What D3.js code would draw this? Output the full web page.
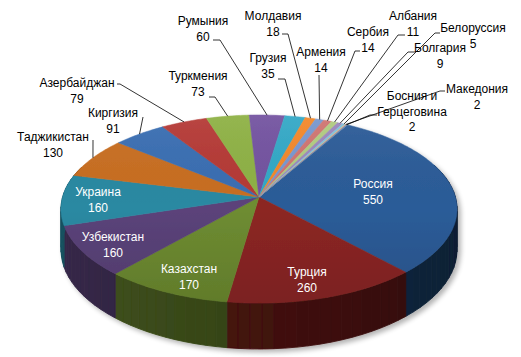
<!DOCTYPE html>
<html><head><meta charset="utf-8">
<script src="https://cdn.jsdelivr.net/npm/d3@7/dist/d3.min.js"></script>
<style>
html,body{margin:0;padding:0;background:#fff;}
svg{display:block;}
text{font-family:"Liberation Sans",Arial,sans-serif;font-size:12px;}
</style></head>
<body>
<script>
// ---- data ----
const categories = ["Россия","Турция","Казахстан","Узбекистан","Украина","Таджикистан","Киргизия","Азербайджан","Туркмения","Румыния","Грузия","Молдавия","Армения","Сербия","Албания","Болгария","Белоруссия","Македония","Босния и Герцеговина"];
const values = [550,260,170,160,160,130,91,79,73,60,35,18,14,14,11,9,5,2,2];
const colors = ["#2C5C98","#8C2624","#6E8C31","#5B437A","#2A89A2","#C86E22","#3A6EB2","#B53A36","#8EB145","#7353A0","#33A8C6","#F3882A","#7897CF","#CF7471","#B1CB80","#9B87BC","#82C3DA","#F8AE77","#6A86AE"];
const startAngleDeg = 30;

// ---- label layout (annotation positions) ----
const insideLabels = {
  "Россия":[373,192], "Турция":[307,280], "Казахстан":[189,277], "Узбекистан":[113,245], "Украина":[98,200]
};
const outsideLabels = {
  "Таджикистан":{x:53,y:137,lead:[[93,140]]},
  "Киргизия":{x:113,y:113,lead:[[143,117]]},
  "Азербайджан":{x:77,y:83,lead:[[117,84],[120,84]]},
  "Туркмения":{x:198,y:76,lead:[[209,97],[215,97]]},
  "Румыния":{x:203,y:21,lead:[[213,40],[220,40]]},
  "Грузия":{x:268,y:58,lead:[[278,79],[285,79]]},
  "Молдавия":{x:273,y:16,lead:[[282,34],[288,34]]},
  "Армения":{x:321,y:52,lead:[[319,75]]},
  "Сербия":{x:368,y:32,lead:[[360,51],[355,51]]},
  "Албания":{x:413,y:16,lead:[[405,35],[398,35]]},
  "Болгария":{x:440,y:48,lead:[[415,52],[408,52]]},
  "Белоруссия":{x:473,y:28,lead:[[440,33],[435,33]]},
  "Македония":{x:477,y:89,lead:[[445,91],[440,91]]},
  "Босния и Герцеговина":{x:412,y:96,lead:[[377,115],[370,115]],wrap:["Босния и","Герцеговина"]}
};

const W = 521, H = 357;
const svg = d3.select("body").append("svg").attr("width",W).attr("height",H);
const defs = svg.append("defs");

// perspective projection of the pie disc
const cx = 259, cy = 197, A = 196.4, B = 92.5, k = 0.128, depth = 40;
function proj(theta, f = 1){
  const s = Math.sin(theta)*f, c = Math.cos(theta)*f, d = 1 + k*c;
  return [cx + A*s/d, cy - B*c/d];
}
function projBottom(theta){
  const c = Math.cos(theta), p = proj(theta);
  return [p[0], p[1] + depth/(1 + k*c)];
}

const start = startAngleDeg*Math.PI/180;
const pie = d3.pie().sort(null).value(d => d).startAngle(start).endAngle(start + 2*Math.PI);
const arcs = pie(values);

// shadow filter
const flt = defs.append("filter").attr("id","sh").attr("x","-10%").attr("y","-10%").attr("width","130%").attr("height","140%");
flt.append("feGaussianBlur").attr("in","SourceAlpha").attr("stdDeviation",2.5).attr("result","b");
flt.append("feOffset").attr("in","b").attr("dx",3).attr("dy",3).attr("result","o");
flt.append("feComponentTransfer").attr("in","o").attr("result","o2").append("feFuncA").attr("type","linear").attr("slope",0.3);
const fm = flt.append("feMerge"); fm.append("feMergeNode").attr("in","o2"); fm.append("feMergeNode").attr("in","SourceGraphic");

const g = svg.append("g").attr("filter","url(#sh)");
const line = d3.line();

// walls (faceted)
const walls = g.append("g");
arcs.forEach((a,i) => {
  const n = Math.max(1, Math.ceil((a.endAngle - a.startAngle)/(3*Math.PI/180)));
  const base = d3.rgb(colors[i]);
  for(let j=0;j<n;j++){
    const t0 = a.startAngle + (a.endAngle-a.startAngle)*j/n;
    const t1 = a.startAngle + (a.endAngle-a.startAngle)*(j+1)/n;
    const tm = (t0+t1)/2;
    if (Math.cos(tm) > 0.35) continue; // back side, hidden
    const f = 0.47 - 0.13*Math.sin(tm);
    const c = d3.rgb(base.r*f, base.g*f, base.b*f);
    const pts = [proj(t0), proj(t1), projBottom(t1), projBottom(t0)];
    walls.append("path").attr("d", line(pts)+"Z").attr("fill", c.toString()).attr("stroke", c.toString()).attr("stroke-width",0.9);
  }
});

// tops
const tops = g.append("g");
arcs.forEach((a,i) => {
  const n = Math.max(2, Math.ceil((a.endAngle - a.startAngle)/(1*Math.PI/180)));
  const pts = [[cx,cy]];
  for(let j=0;j<=n;j++) pts.push(proj(a.startAngle + (a.endAngle-a.startAngle)*j/n));
  tops.append("path").attr("d", line(pts)+"Z").attr("fill", colors[i]).attr("stroke", colors[i]).attr("stroke-width",0.5).attr("stroke-linejoin","round");
});
// vertical shading overlay on top face
const lg = defs.append("linearGradient").attr("id","tg").attr("x1",0).attr("y1",0).attr("x2",0).attr("y2",1);
lg.append("stop").attr("offset","0%").attr("stop-color","#fff").attr("stop-opacity",0.06);
lg.append("stop").attr("offset","50%").attr("stop-color","#000").attr("stop-opacity",0.0);
lg.append("stop").attr("offset","100%").attr("stop-color","#000").attr("stop-opacity",0.12);
const ring = d3.range(0,361,2).map(d => proj(d*Math.PI/180));
tops.append("path").attr("d", line(ring)+"Z").attr("fill","url(#tg)");

// labels
const lab = svg.append("g");
arcs.forEach((a,i) => {
  const name = categories[i], val = values[i];
  const mid = (a.startAngle + a.endAngle)/2;
  if (insideLabels[name]){
    const [x,y] = insideLabels[name];
    lab.append("text").attr("x",x).attr("y",y-8).attr("text-anchor","middle").attr("dominant-baseline","central").attr("fill","#fff").text(name);
    lab.append("text").attr("x",x).attr("y",y+8).attr("text-anchor","middle").attr("dominant-baseline","central").attr("fill","#fff").text(val);
  } else if (outsideLabels[name]){
    const L = outsideLabels[name];
    const lines = (L.wrap || [name]).concat([String(val)]);
    lines.forEach((t,j) => {
      lab.append("text").attr("x",L.x).attr("y",L.y + j*15.5).attr("text-anchor","middle").attr("dominant-baseline","central").attr("fill","#000").text(t);
    });
    const pts = L.lead.concat([proj(mid)]);
    lab.append("path").attr("d", line(pts)).attr("fill","none").attr("stroke","#000").attr("stroke-width",0.8);
  }
});
</script>
</body></html>
